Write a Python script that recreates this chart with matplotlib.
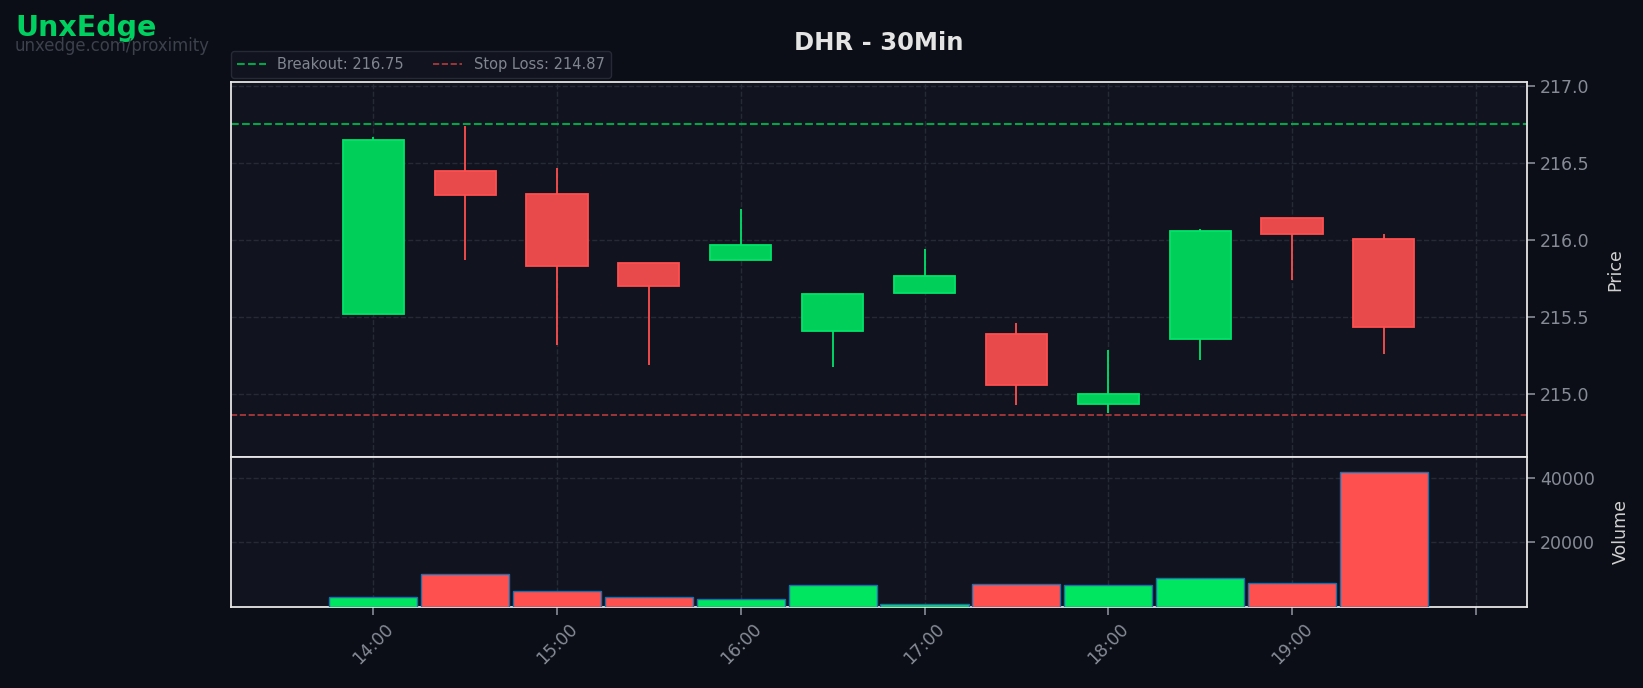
import matplotlib
matplotlib.use("Agg")
import matplotlib.pyplot as plt

# ---------------- data ----------------
times = ['14:00', '14:30', '15:00', '15:30', '16:00', '16:30',
         '17:00', '17:30', '18:00', '18:30', '19:00', '19:30']
opens = [215.52, 216.45, 216.30, 215.85, 215.87, 215.41,
         215.66, 215.39, 214.94, 215.36, 216.14, 216.01]
highs = [216.67, 216.74, 216.47, 215.85, 216.20, 215.65,
         215.94, 215.46, 215.29, 216.07, 216.14, 216.04]
lows = [215.52, 215.87, 215.32, 215.19, 215.87, 215.18,
        215.66, 214.93, 214.88, 215.22, 215.74, 215.26]
closes = [216.65, 216.29, 215.83, 215.70, 215.97, 215.65,
          215.77, 215.06, 215.00, 216.06, 216.04, 215.44]
volumes = [3100, 10300, 5000, 3200, 2500, 6900,
           1000, 7200, 6900, 9100, 7500, 41900]
breakout = 216.75
stop_loss = 214.87
tick_times = ['14:00', '15:00', '16:00', '17:00', '18:00', '19:00', '20:00']
tick_labels = ['14:00', '15:00', '16:00', '17:00', '18:00', '19:00']
price_ticks = [215.0, 215.5, 216.0, 216.5, 217.0]
volume_ticks = [20000, 40000]
title = 'DHR - 30Min'


def to_hours(t):
    h, m = t.split(':')
    return int(h) + int(m) / 60.0


x = [to_hours(t) for t in times]
xt = [to_hours(t) for t in tick_times]

# ---------------- style ----------------
FIG_BG = '#0b0e16'
AX_BG = '#11141f'
GRID = '#262a36'
TICK = '#868b96'
SPINE = '#e6e6e6'
G_FILL, G_EDGE = '#00cf5a', '#00e46a'
R_FILL, R_EDGE = '#e84a4b', '#ff4f4f'
VG, VR = '#00e660', '#ff5050'

fig = plt.figure(figsize=(16.43, 6.88), dpi=100, facecolor=FIG_BG)
ax = fig.add_axes([0.1404, 0.3358, 0.789, 0.545])
axv = fig.add_axes([0.1404, 0.1177, 0.789, 0.2181], sharex=ax)

for a in (ax, axv):
    a.set_facecolor(AX_BG)
    for s in a.spines.values():
        s.set_color(SPINE)
        s.set_linewidth(1.3)
    a.grid(True, color=GRID, linestyle='--', linewidth=1.0)
    a.set_axisbelow(True)
    a.yaxis.tick_right()
    a.yaxis.set_label_position('right')
    a.tick_params(colors=TICK, labelsize=12.5, length=6, width=1.2)

up = [c >= o for o, c in zip(opens, closes)]
body_bottom = [min(o, c) for o, c in zip(opens, closes)]
body_height = [abs(c - o) for o, c in zip(opens, closes)]
fills = [G_FILL if u else R_FILL for u in up]
edges = [G_EDGE if u else R_EDGE for u in up]

ax.vlines(x, lows, highs, colors=edges, linewidth=1.3, zorder=2)
ax.bar(x, body_height, bottom=body_bottom, width=0.333, color=fills,
       edgecolor=edges, linewidth=1.3, zorder=3)

ax.axhline(breakout, color='#00c050', linestyle='--', linewidth=1.5,
           alpha=0.85, label=f'Breakout: {breakout:.2f}', zorder=1.5)
ax.axhline(stop_loss, color='#e04545', linestyle='--', linewidth=1.2,
           alpha=0.8, label=f'Stop Loss: {stop_loss:.2f}', zorder=1.5)

ax.set_ylim(214.595, 217.024)
ax.set_yticks(price_ticks)
ax.set_yticklabels([f'{v:.1f}' for v in price_ticks])
ax.set_ylabel('Price', color='#d0d0d0', fontsize=12.5, labelpad=12)
ax.tick_params(axis='x', which='both', bottom=False, labelbottom=False)

leg = ax.legend(loc='lower left', bbox_to_anchor=(0.0, 1.012), ncol=2,
                borderaxespad=0.0, fontsize=10.5, frameon=True,
                facecolor=AX_BG, edgecolor='#262a36', framealpha=1.0)
for t in leg.get_texts():
    t.set_color('#80858f')

vcolors = [VG if u else VR for u in up]
axv.bar(x, volumes, width=0.48, color=vcolors, edgecolor='#1f6fae',
        linewidth=1.0, zorder=3)
axv.set_ylim(0, 46500)
axv.set_yticks(volume_ticks)
axv.set_yticklabels([str(v) for v in volume_ticks])
axv.set_ylabel('Volume', color='#d0d0d0', fontsize=12.5, labelpad=12)

axv.set_xlim(13.224, 20.279)
axv.set_xticks(xt)
axv.set_xticklabels(tick_labels + [''] * (len(xt) - len(tick_labels)),
                    rotation=45, ha='center')

fig.text(0.5347, 0.9375, title, ha='center', va='center', fontsize=17.5,
         fontweight='bold', color='#e4e4e4')
fig.text(0.0096, 0.9593, 'UnxEdge', ha='left', va='center', fontsize=20.5,
         fontweight='bold', color='#00d060')
fig.text(0.009, 0.9331, 'unxedge.com/proximity', ha='left', va='center',
         fontsize=11.9, color='#3c414c')

fig.savefig('out.png', dpi=100, facecolor=FIG_BG)
